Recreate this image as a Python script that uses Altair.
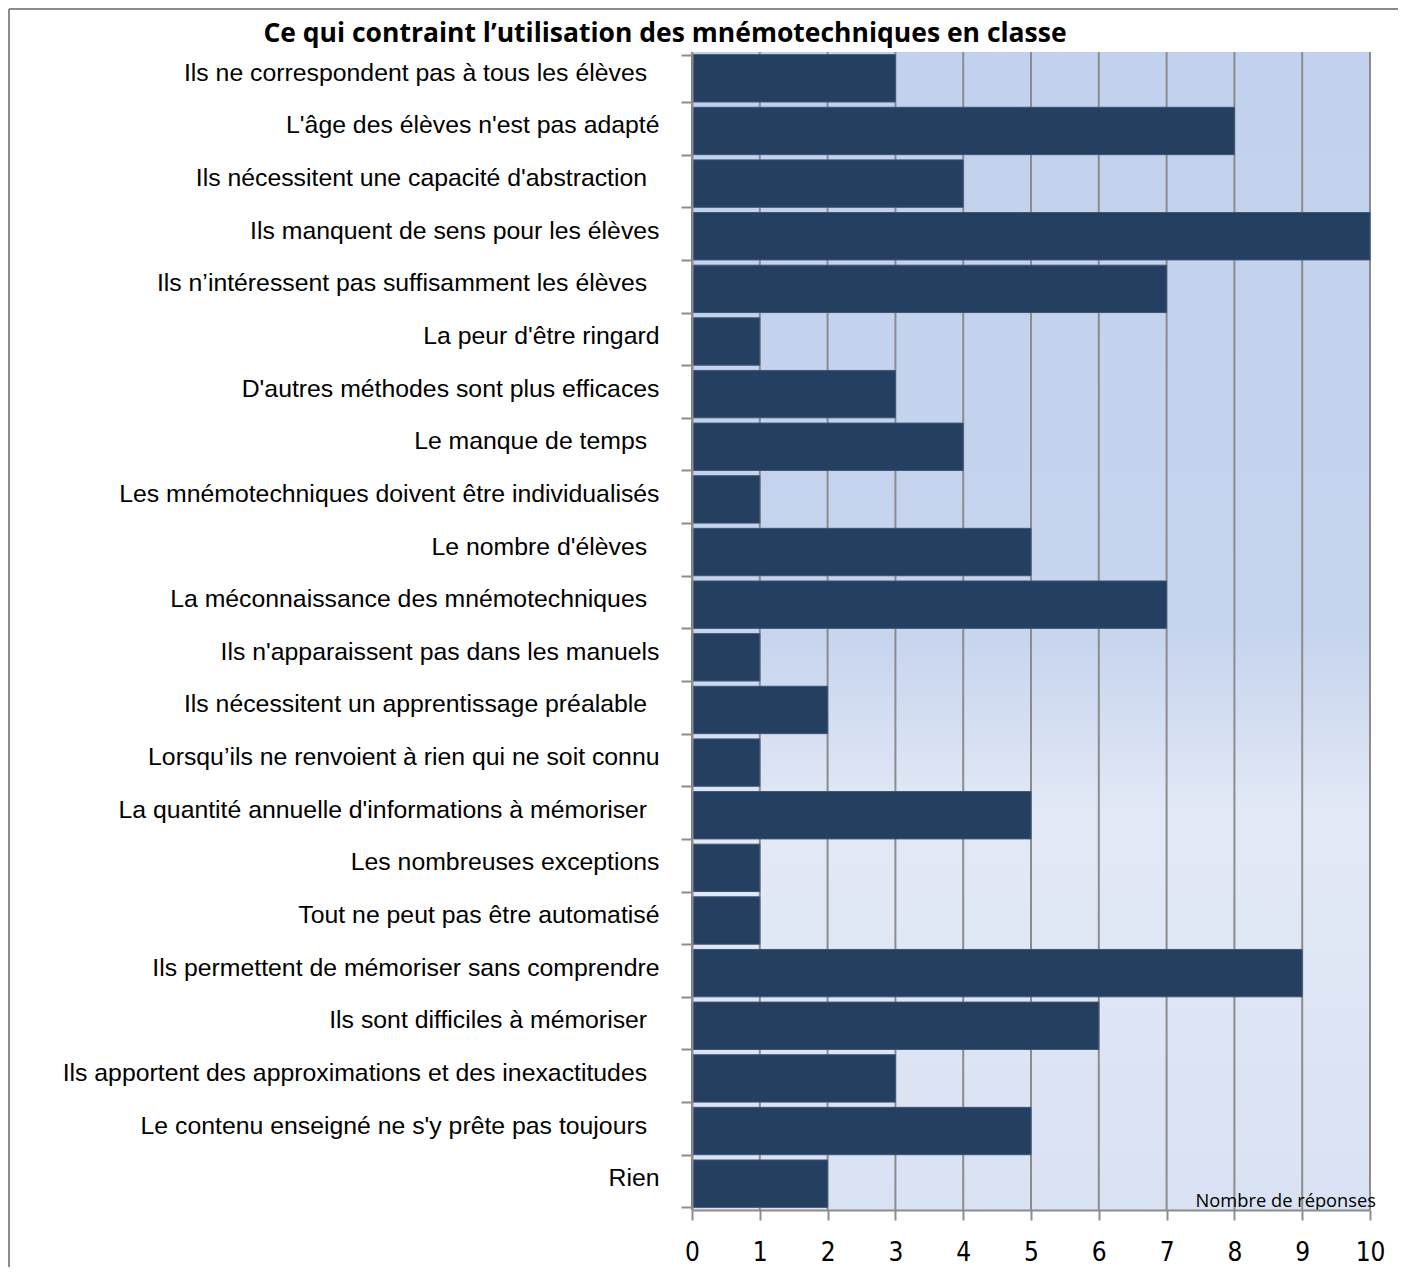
import altair as alt
import pandas as pd

TITLE = "Ce qui contraint l’utilisation des mnémotechniques en classe"
SP = "\u2002\u200b"
categories = [
    "Ils ne correspondent pas à tous les élèves" + SP,
    "L'âge des élèves n'est pas adapté",
    "Ils nécessitent une capacité d'abstraction" + SP,
    "Ils manquent de sens pour les élèves",
    "Ils n’intéressent pas suffisamment les élèves" + SP,
    "La peur d'être ringard",
    "D'autres méthodes sont plus efficaces",
    "Le manque de temps" + SP,
    "Les mnémotechniques doivent être individualisés",
    "Le nombre d'élèves" + SP,
    "La méconnaissance des mnémotechniques" + SP,
    "Ils n'apparaissent pas dans les manuels",
    "Ils nécessitent un apprentissage préalable" + SP,
    "Lorsqu’ils ne renvoient à rien qui ne soit connu",
    "La quantité annuelle d'informations à mémoriser" + SP,
    "Les nombreuses exceptions",
    "Tout ne peut pas être automatisé",
    "Ils permettent de mémoriser sans comprendre",
    "Ils sont difficiles à mémoriser" + SP,
    "Ils apportent des approximations et des inexactitudes" + SP,
    "Le contenu enseigné ne s'y prête pas toujours" + SP,
    "Rien",
]
values = [3, 8, 4, 10, 7, 1, 3, 4, 1, 5, 7, 1, 2, 1, 5, 1, 1, 9, 6, 3, 5, 2]
x_ticks = list(range(0, 11))
x_title = "Nombre de réponses"

W, H = 678, 1158
PL, PT, PR, PB = 684, 44, 28, 57

df = pd.DataFrame({"cat": categories, "val": values})
grid_df = pd.DataFrame({"t": x_ticks})
one = pd.DataFrame({"a": [0]})

xscale = alt.Scale(domain=[0, 10], nice=False, zero=True)
yscale = alt.Scale(domain=categories, paddingInner=0.1, paddingOuter=0.05)

bg = alt.Chart(one).mark_rect(
    fill=alt.LinearGradient(
        gradient="linear", x1=0, x2=0, y1=0, y2=1,
        stops=[
            alt.GradientStop(offset=0, color="#c2d1ed"),
            alt.GradientStop(offset=0.5, color="#c6d4ee"),
            alt.GradientStop(offset=0.66, color="#e3e9f6"),
            alt.GradientStop(offset=1, color="#d9e2f3"),
        ],
    )
).encode(x=alt.value(0), x2=alt.value(W), y=alt.value(0), y2=alt.value(H))

grid = alt.Chart(grid_df).mark_rule(color="#8c8c8c", strokeWidth=2).encode(
    x=alt.X("t:Q", scale=xscale), y=alt.value(0), y2=alt.value(H)
)

bars = alt.Chart(df).mark_bar(color="#243f60", stroke="#3d5676", strokeWidth=1).encode(
    x=alt.X(
        "val:Q", scale=xscale,
        axis=alt.Axis(
            values=x_ticks, format="d", title=None, grid=False, zindex=1,
            domainColor="#8c8c8c", domainWidth=2, tickColor="#8c8c8c", tickWidth=2,
            tickSize=10, labelPadding=19, labelFontSize=26,
            labelFont="Liberation Sans Narrow, DejaVu Sans Condensed, sans-serif",
            labelColor="#000000", labelFlush=False,
        ),
    ),
    y=alt.Y(
        "cat:N", scale=yscale, sort=categories,
        axis=alt.Axis(
            title=None, zindex=1, tickBand="extent",
            domainColor="#8c8c8c", domainWidth=2, tickColor="#8c8c8c", tickWidth=2,
            tickSize=11, labelPadding=22, labelFontSize=24.8, labelFont="Liberation Sans",
            labelColor="#000000", labelOffset=-5, labelLimit=0,
        ),
    ),
)

title = alt.Chart(one).mark_text(
    text=TITLE, font="Open Sans", fontWeight="bold", fontSize=26.5,
    align="center", baseline="alphabetic", color="#000000",
).encode(x=alt.value(-27), y=alt.value(-10))

xlab = alt.Chart(one).mark_text(
    text=x_title, font="Liberation Sans Narrow, Open Sans, sans-serif", fontSize=18.3,
    align="right", baseline="alphabetic", color="#000000",
).encode(x=alt.value(W + 6), y=alt.value(H - 3))

border_left = alt.Chart(one).mark_rule(color="#8c8c8c", strokeWidth=2).encode(
    x=alt.value(-683), y=alt.value(-43), y2=alt.value(H + PB)
)
border_top = alt.Chart(one).mark_rule(color="#8c8c8c", strokeWidth=2).encode(
    x=alt.value(-683), x2=alt.value(W + PR), y=alt.value(-43)
)

chart = (
    alt.layer(bg, grid, bars, title, xlab, border_left, border_top)
    .properties(
        width=W, height=H,
        padding={"left": PL, "top": PT, "right": PR, "bottom": PB},
        autosize=alt.AutoSizeParams(type="none"),
        background="#ffffff",
    )
    .configure_view(stroke=None)
)

chart.save("out.html", embed_options={"renderer": "svg", "actions": False})
